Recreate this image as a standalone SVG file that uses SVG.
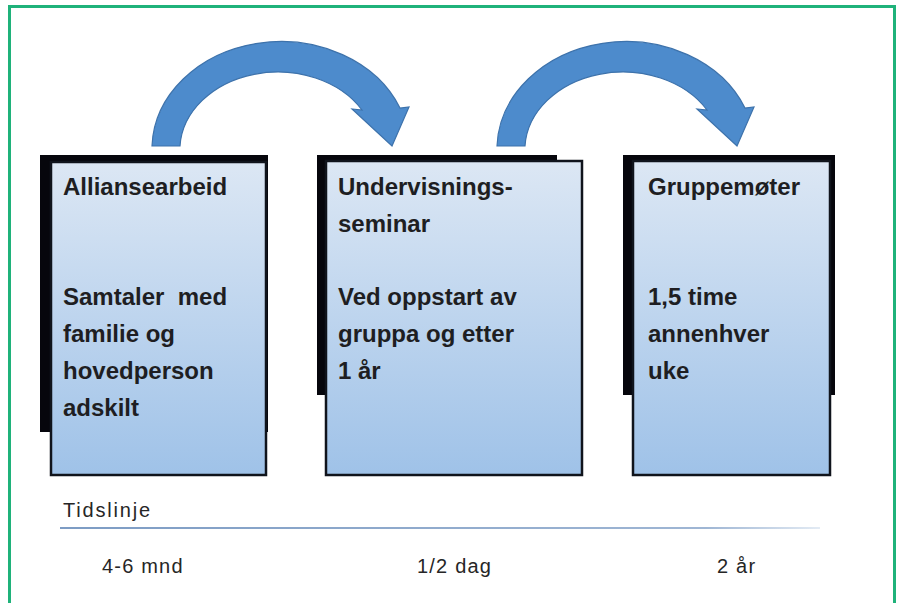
<svg xmlns="http://www.w3.org/2000/svg" width="901" height="603" viewBox="0 0 901 603">
  <defs>
    <linearGradient id="boxFill" x1="0" y1="0" x2="0" y2="1">
      <stop offset="0" stop-color="#dce7f4"/>
      <stop offset="1" stop-color="#9fc2e8"/>
    </linearGradient>
    <linearGradient id="tl" x1="0" y1="0" x2="1" y2="0">
      <stop offset="0" stop-color="#7d9cc4"/>
      <stop offset="0.85" stop-color="#9fb6d4"/>
      <stop offset="1" stop-color="#e3ebf4"/>
    </linearGradient>
    <path id="curve" d="M152,146 A129,108 0 0 1 400,108 L409,107 L392,146 L352,109 L362,110 A98,78 0 0 0 180,146 Z"/>
  </defs>
  <style>
    .back { fill: #06060c; }
    .front { fill: url(#boxFill); stroke: #10141c; stroke-width: 2.5; }
    .t { font-family: "Liberation Sans", Arial, sans-serif; font-weight: bold; font-size: 24px; fill: #1e1e22; }
    .tl { font-family: "Liberation Sans", Arial, sans-serif; font-size: 20px; fill: #262626; letter-spacing: 1.2px; }
    .arrow { fill: #4d8bcc; stroke: #3d72ab; stroke-width: 1.2; }
  </style>
  <rect x="0" y="0" width="901" height="603" fill="#ffffff"/>
  <rect x="9.5" y="6.5" width="885" height="640" fill="none" stroke="#1fb27a" stroke-width="3"/>

  <g id="connectors">
    <use href="#curve" class="arrow"/>
    <use href="#curve" class="arrow" transform="translate(345,0)"/>
  </g>

  <g id="node-alliansearbeid">
    <rect class="back" x="40" y="155" width="228" height="277"/>
    <rect class="front" x="51" y="162" width="215" height="313"/>
    <text class="t" x="63" y="195">Alliansearbeid</text>
    <text class="t" x="63" y="305" xml:space="preserve">Samtaler  med</text>
    <text class="t" x="63" y="342">familie og</text>
    <text class="t" x="63" y="379">hovedperson</text>
    <text class="t" x="63" y="416">adskilt</text>
  </g>

  <g id="node-undervisningsseminar">
    <rect class="back" x="317" y="155" width="240" height="240"/>
    <rect class="front" x="326" y="161" width="256" height="314"/>
    <text class="t" x="338" y="195">Undervisnings-</text>
    <text class="t" x="338" y="232">seminar</text>
    <text class="t" x="338" y="305">Ved oppstart av</text>
    <text class="t" x="338" y="342">gruppa og etter</text>
    <text class="t" x="338" y="379">1 år</text>
  </g>

  <g id="node-gruppemoter">
    <rect class="back" x="623" y="155" width="212" height="240"/>
    <rect class="front" x="633" y="161" width="197" height="314"/>
    <text class="t" x="648" y="195">Gruppemøter</text>
    <text class="t" x="648" y="305">1,5 time</text>
    <text class="t" x="648" y="342">annenhver</text>
    <text class="t" x="648" y="379">uke</text>
  </g>

  <g id="timeline">
    <text class="tl" x="63" y="517" style="letter-spacing:1.8px">Tidslinje</text>
    <rect x="60" y="527" width="760" height="2" fill="url(#tl)"/>
    <text class="tl" x="102" y="573">4-6 mnd</text>
    <text class="tl" x="417" y="573">1/2 dag</text>
    <text class="tl" x="717" y="573">2 år</text>
  </g>
</svg>
